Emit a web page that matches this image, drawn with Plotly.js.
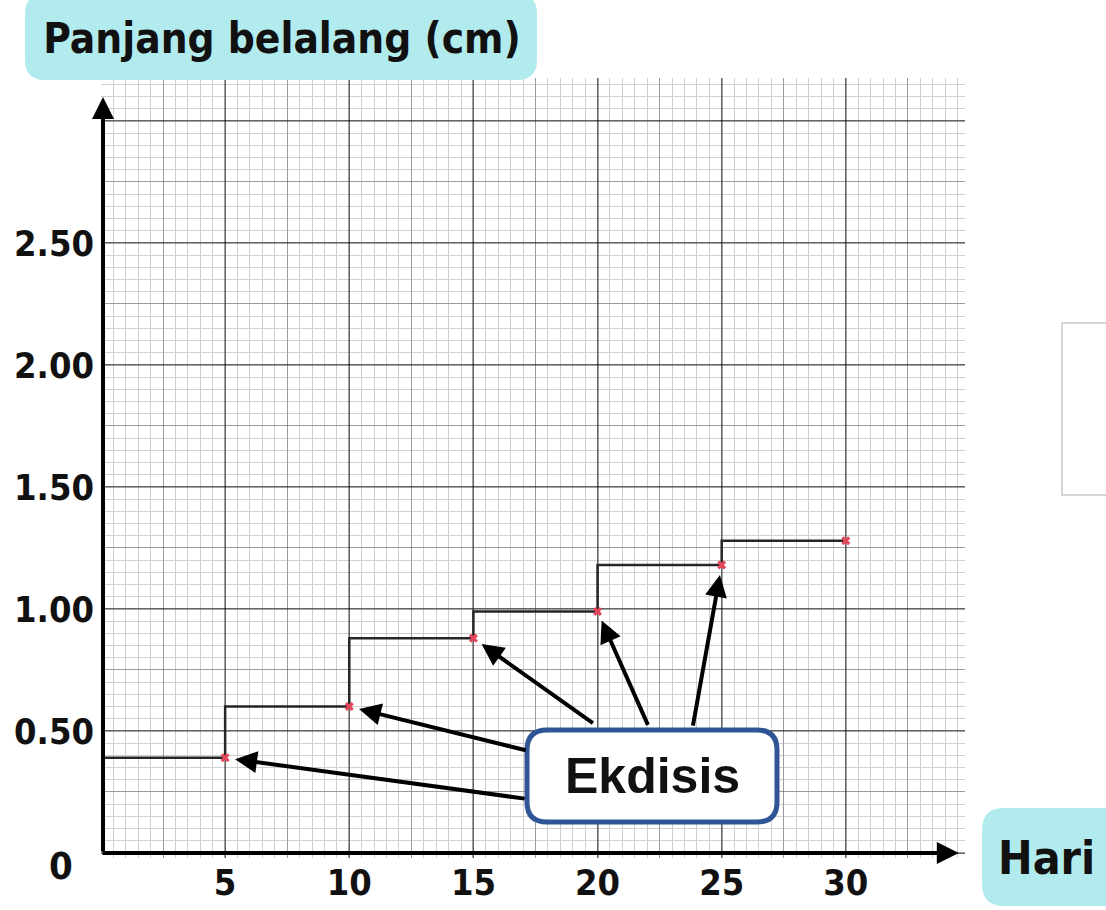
<!DOCTYPE html>
<html>
<head>
<meta charset="utf-8">
<script src="https://cdn.plot.ly/plotly-3.0.1.min.js"></script>
<style>html,body{margin:0;padding:0;background:#fff;}#chart{width:1106px;height:910px;}</style>
</head>
<body>
<div id="chart"></div>
<script>
// ---- data ----
const hari = [0, 5, 10, 15, 20, 25, 30];
const panjang = [0.39, 0.39, 0.60, 0.88, 0.99, 1.18, 1.28];
const xTickVals = [5, 10, 15, 20, 25, 30];
const xTickText = ['5', '10', '15', '20', '25', '30'];
const yTickVals = [0.5, 1.0, 1.5, 2.0, 2.5];
const yTickText = ['0.50', '1.00', '1.50', '2.00', '2.50'];
const ekdisisLabel = 'Ekdisis';
const yTitle = 'Panjang belalang (cm)';
const xTitle = 'Hari';

// ---- geometry helpers (plot area in pixels) ----
const L = 101, R = 965, T = 78, B = 858;
const W = R - L, H = B - T;
const X = p => (p - L) / W;
const Y = p => (B - p) / H;
function rr(x0, y0, x1, y1, r) {
  return `M${X(x0 + r)},${Y(y0)} L${X(x1 - r)},${Y(y0)} Q${X(x1)},${Y(y0)} ${X(x1)},${Y(y0 + r)} ` +
         `L${X(x1)},${Y(y1 - r)} Q${X(x1)},${Y(y1)} ${X(x1 - r)},${Y(y1)} ` +
         `L${X(x0 + r)},${Y(y1)} Q${X(x0)},${Y(y1)} ${X(x0)},${Y(y1 - r)} ` +
         `L${X(x0)},${Y(y0 + r)} Q${X(x0)},${Y(y0)} ${X(x0 + r)},${Y(y0)} Z`;
}

const xRange = [0, 34.8];
const yRange = [-0.0205, 3.176];
const condensed = 'DejaVu Sans Condensed, DejaVu Sans, sans-serif';

const traces = [
  { x: hari, y: panjang, mode: 'lines', line: { shape: 'vh', color: '#262626', width: 2.5 },
    hoverinfo: 'skip', showlegend: false },
  { x: hari.slice(1), y: panjang.slice(1), mode: 'markers',
    marker: { symbol: 'x', size: 8, color: '#e4475c' }, showlegend: false },
  { x: [], y: [], xaxis: 'x2', yaxis: 'y2', showlegend: false },
  { x: [], y: [], xaxis: 'x3', yaxis: 'y3', showlegend: false }
];

// arrows to the ecdysis points
const tails = [[301, 41], [178, 44], [121, 86], [51, 115], [-29, 162]];
const annotations = [];
for (let i = 1; i <= 5; i++) {
  annotations.push({ x: hari[i], y: panjang[i], xref: 'x', yref: 'y', text: '',
    showarrow: true, arrowhead: 2, arrowsize: 1.1, arrowwidth: 4, arrowcolor: '#000',
    standoff: 10, ax: tails[i - 1][0], ay: tails[i - 1][1] });
}
// axis arrows
annotations.push({ x: 0.08, y: 3.098, ax: 0.08, ay: 0, xref: 'x', yref: 'y', axref: 'x', ayref: 'y',
  text: '', showarrow: true, arrowhead: 2, arrowsize: 1.1, arrowwidth: 4, arrowcolor: '#000' });
annotations.push({ x: 34.55, y: 0, ax: 0, ay: 0, xref: 'x', yref: 'y', axref: 'x', ayref: 'y',
  text: '', showarrow: true, arrowhead: 2, arrowsize: 1.1, arrowwidth: 4, arrowcolor: '#000' });
// texts
annotations.push({ x: X(652), y: Y(776), xref: 'paper', yref: 'paper', xanchor: 'center', yanchor: 'middle',
  text: ekdisisLabel, showarrow: false,
  font: { family: 'Liberation Sans, Arial, sans-serif', size: 50, weight: 'bold', color: '#111' } });
annotations.push({ x: X(1046), y: Y(858), xref: 'paper', yref: 'paper', xanchor: 'center', yanchor: 'middle',
  text: xTitle, showarrow: false,
  font: { family: condensed, size: 46, weight: 'bold', color: '#111' } });
annotations.push({ x: X(61), y: Y(866), xref: 'paper', yref: 'paper', xanchor: 'center', yanchor: 'middle',
  text: '0', showarrow: false,
  font: { family: condensed, size: 38, weight: 'bold', color: '#111' } });

const shapes = [
  { type: 'path', xref: 'paper', yref: 'paper', path: rr(25, -6, 537, 80, 20),
    fillcolor: '#b2ebee', line: { width: 0 }, layer: 'above' },
  { type: 'path', xref: 'paper', yref: 'paper', path: rr(982, 808, 1130, 906, 22),
    fillcolor: '#b2ebee', line: { width: 0 }, layer: 'above' },
  { type: 'path', xref: 'paper', yref: 'paper', path: rr(527, 730, 777, 822, 20),
    fillcolor: '#ffffff', line: { width: 5, color: '#2f5597' }, layer: 'above' },
  { type: 'rect', xref: 'paper', yref: 'paper', x0: X(1062), x1: X(1120), y0: Y(323), y1: Y(495),
    fillcolor: 'rgba(0,0,0,0)', line: { width: 2, color: '#d6d6d6' }, layer: 'above' }
];

const layout = {
  width: 1106, height: 910,
  margin: { l: L, r: 1106 - R, t: T, b: 910 - B, pad: 0 },
  paper_bgcolor: '#ffffff', plot_bgcolor: '#ffffff',
  showlegend: false,
  title: { text: yTitle, xref: 'container', yref: 'container', x: 282 / 1106, xanchor: 'center',
    y: 1 - 38 / 910, yanchor: 'middle',
    font: { family: condensed, size: 42, weight: 'bold', color: '#111' } },
  xaxis: { range: xRange, tickmode: 'array', tickvals: xTickVals, ticktext: xTickText,
    showgrid: false, zeroline: false, showline: false, ticks: '', ticklabelstandoff: 0,
    tickfont: { family: condensed, size: 36, weight: 'bold', color: '#111' },
    minor: { dtick: 0.5, tick0: 0, showgrid: true, gridcolor: '#cfcfcf', gridwidth: 1 },
    fixedrange: true },
  yaxis: { range: yRange, tickmode: 'array', tickvals: yTickVals, ticktext: yTickText,
    showgrid: false, zeroline: false, showline: false, ticks: '', ticklabelstandoff: 6,
    tickfont: { family: condensed, size: 36, weight: 'bold', color: '#111' },
    minor: { dtick: 0.05, tick0: 0, showgrid: true, gridcolor: '#cfcfcf', gridwidth: 1 },
    fixedrange: true },
  xaxis2: { overlaying: 'x', range: xRange, tickmode: 'linear', tick0: 0, dtick: 2.5, showgrid: true,
    gridcolor: 'rgba(0,0,0,0.25)', gridwidth: 1, showticklabels: false, ticks: '', zeroline: false },
  yaxis2: { overlaying: 'y', range: yRange, tickmode: 'linear', tick0: 0, dtick: 0.25, showgrid: true,
    gridcolor: 'rgba(0,0,0,0.25)', gridwidth: 1, showticklabels: false, ticks: '', zeroline: false },
  xaxis3: { overlaying: 'x', range: xRange, tickmode: 'linear', tick0: 0, dtick: 5, showgrid: true,
    gridcolor: 'rgba(0,0,0,0.36)', gridwidth: 2, showticklabels: false, ticks: '', zeroline: false },
  yaxis3: { overlaying: 'y', range: yRange, tickmode: 'linear', tick0: 0, dtick: 0.5, showgrid: true,
    gridcolor: 'rgba(0,0,0,0.36)', gridwidth: 2, showticklabels: false, ticks: '', zeroline: false },
  shapes: shapes,
  annotations: annotations
};

Plotly.newPlot('chart', traces, layout, { displayModeBar: false, staticPlot: true });
</script>
</body>
</html>
